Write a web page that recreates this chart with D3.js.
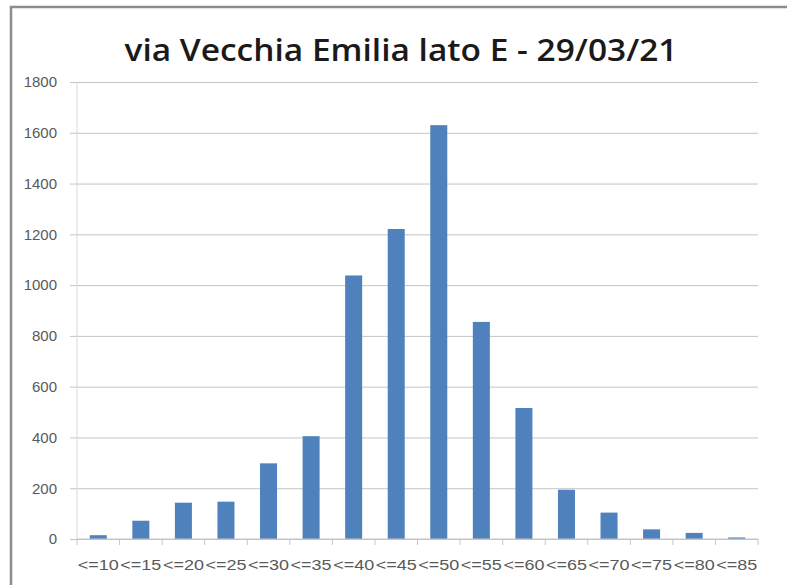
<!DOCTYPE html>
<html>
<head>
<meta charset="utf-8">
<script src="https://cdn.jsdelivr.net/npm/d3@7"></script>
<style>
  body { margin: 0; background: #fff; }
  svg { display: block; font-family: "Open Sans", "Noto Sans", sans-serif; }
</style>
</head>
<body>
<div id="chart"></div>
<script>
const title = "via Vecchia Emilia lato E - 29/03/21"
const categories = ["<=10", "<=15", "<=20", "<=25", "<=30", "<=35", "<=40", "<=45",
  "<=50", "<=55", "<=60", "<=65", "<=70", "<=75", "<=80", "<=85"]
const counts = [15, 72, 143, 147, 298, 405, 1038, 1221, 1630, 855, 516, 194, 104, 38, 24, 6]
const yTicks = [0, 200, 400, 600, 800, 1000, 1200, 1400, 1600, 1800]

const width = 787
const height = 585
const margin = { top: 82, right: 29, bottom: 46, left: 77 }
const plotW = width - margin.left - margin.right
const plotH = height - margin.top - margin.bottom

const svg = d3.select("#chart")
  .append("svg")
  .attr("width", width)
  .attr("height", height)

// Chart frame (only top and left edges visible)
svg.append("path")
  .attr("d", `M11,${height} V7 H${width}`)
  .attr("fill", "none")
  .attr("stroke", "#8c8c8c")
  .attr("stroke-width", 2.5)

svg.append("text")
  .attr("x", 401)
  .attr("y", 61)
  .attr("text-anchor", "middle")
  .attr("textLength", 553)
  .attr("lengthAdjust", "spacingAndGlyphs")
  .style("font-size", "31px")
  .style("font-weight", "600")
  .style("fill", "#1a1a1a")
  .text(title)

const g = svg.append("g")
  .attr("transform", `translate(${margin.left},${margin.top})`)

const x = d3.scaleBand()
  .domain(categories)
  .range([0, plotW])
  .paddingInner(0.6)
  .paddingOuter(0.3)

const y = d3.scaleLinear()
  .domain([0, 1800])
  .range([plotH, 0])

// Gridlines + y axis
g.append("g")
  .call(d3.axisLeft(y).tickValues(yTicks).tickFormat(d3.format("d")).tickSize(0))
  .call(s => s.select(".domain").remove())
  .call(s => s.selectAll(".tick line")
    .attr("stroke", "#c4c4c4")
    .attr("x1", -7)
    .attr("x2", plotW))
  .call(s => s.selectAll(".tick text")
    .attr("x", -20)
    .style("font-size", "15px")
    .style("fill", "#595959")
    .style("font-family", "'Liberation Sans', sans-serif"))

g.append("line")
  .attr("x1", 0).attr("x2", 0)
  .attr("y1", 0).attr("y2", plotH)
  .attr("stroke", "#d9d9d9")

// Bars
g.selectAll(".bar")
  .data(counts)
  .join("rect")
  .attr("class", "bar")
  .attr("x", (d, i) => x(categories[i]))
  .attr("y", d => y(d))
  .attr("width", x.bandwidth())
  .attr("height", d => plotH - y(d))
  .attr("fill", "#4f81bd")

// X axis
const step = x.step()
const xAxis = g.append("g")
  .attr("transform", `translate(0,${plotH})`)

xAxis.append("line")
  .attr("x1", 0).attr("x2", plotW)
  .attr("stroke", "#c4c4c4")

xAxis.selectAll(".xtick")
  .data(d3.range(categories.length + 1))
  .join("line")
  .attr("class", "xtick")
  .attr("x1", i => i * step)
  .attr("x2", i => i * step)
  .attr("y1", 0).attr("y2", 6)
  .attr("stroke", "#c4c4c4")

xAxis.selectAll(".xlabel")
  .data(categories)
  .join("text")
  .attr("class", "xlabel")
  .attr("x", d => x(d) + x.bandwidth() / 2)
  .attr("y", 31)
  .attr("text-anchor", "middle")
  .attr("textLength", 41)
  .attr("lengthAdjust", "spacingAndGlyphs")
  .style("font-size", "15px")
  .style("fill", "#595959")
  .style("font-family", "'Liberation Sans', sans-serif")
  .text(d => d)
</script>
</body>
</html>
